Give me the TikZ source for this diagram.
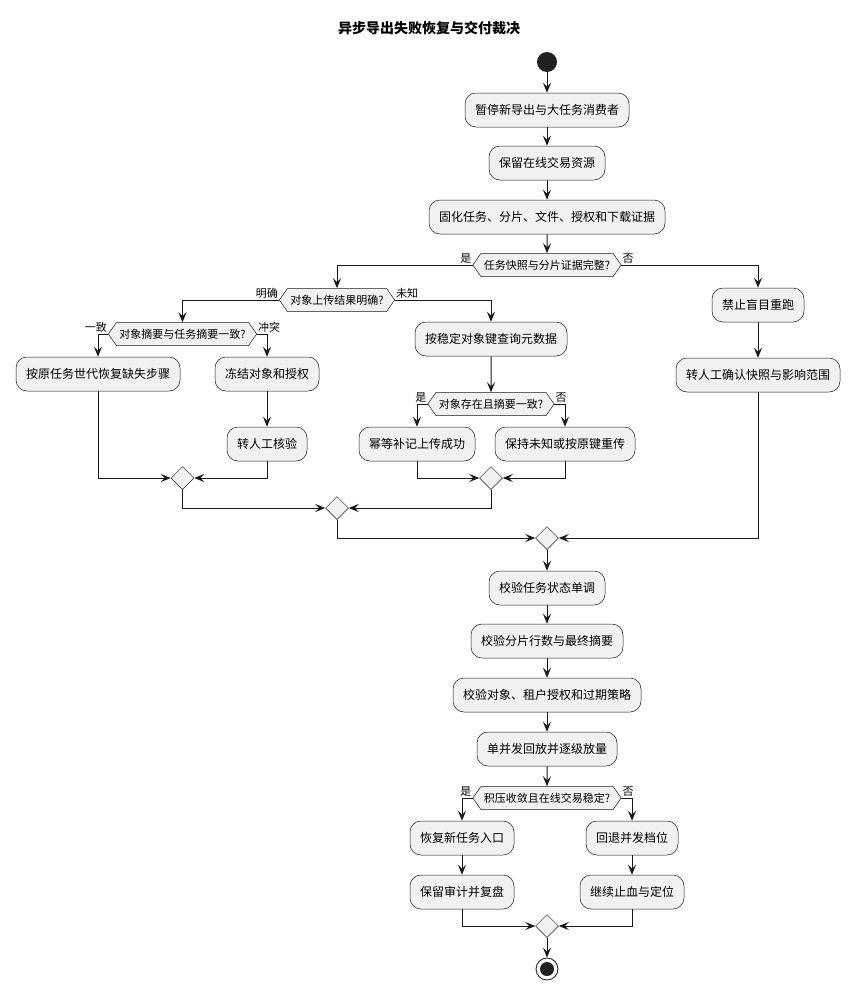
\documentclass[tikz,border=0pt]{standalone}
\usepackage{fontspec}
\setmainfont{Noto Sans CJK SC}
\usetikzlibrary{arrows.meta,shapes.symbols,shapes.geometric}
\definecolor{boxfill}{HTML}{F1F1F1}
\definecolor{boxline}{HTML}{181818}
\begin{document}
\begin{tikzpicture}[x=1pt,y=-1pt,
 act/.style={draw=boxline, fill=boxfill, line width=0.5pt, rounded corners=11pt, minimum height=34pt, inner xsep=10pt, font=\fontsize{12}{14}\selectfont},
 hexa/.style={draw=boxline, fill=boxfill, line width=0.5pt, signal, signal to=east and west, signal pointer angle=110, minimum height=23pt, inner xsep=3pt, inner ysep=0pt, font=\fontsize{11}{13}\selectfont},
 merge/.style={draw=boxline, fill=boxfill, line width=0.5pt, diamond, minimum width=23pt, minimum height=23pt, inner sep=0pt},
 arr/.style={draw=black!90, line width=1pt, -{Stealth[length=10pt,width=8pt,inset=4pt]}},
 lbl/.style={font=\fontsize{11}{13}\selectfont, inner sep=1pt}
]
\useasboundingbox (0,0) rectangle (858,999);
\node[font=\bfseries\fontsize{14}{16}\selectfont] (title) at (429,28) {异步导出失败恢复与交付裁决};
\node[circle, fill=black!87, minimum size=20pt, inner sep=0pt] (start) at (547,62) {};
\node[act] (a1) at (547,110) {暂停新导出与大任务消费者};
\node[act] (a2) at (547,163) {保留在线交易资源};
\node[act] (a3) at (547,217) {固化任务、分片、文件、授权和下载证据};
\node[hexa] (d1) at (547,265) {任务快照与分片证据完整?};
\node[hexa] (d2) at (337,300) {对象上传结果明确?};
\node[hexa] (d3) at (182.5,334) {对象摘要与任务摘要一致?};
\node[act] (b1) at (98,374) {按原任务世代恢复缺失步骤};
\node[act] (b2) at (267,374) {冻结对象和授权};
\node[act] (b3) at (267,444) {转人工核验};
\node[merge] (m3) at (182.5,478) {};
\node[act] (c1) at (491,339) {按稳定对象键查询元数据};
\node[hexa] (d4) at (491,404) {对象存在且摘要一致?};
\node[act] (c2) at (417,444) {幂等补记上传成功};
\node[act] (c3) at (565,444) {保持未知或按原键重传};
\node[merge] (m4) at (491,478) {};
\node[merge] (m2) at (337,508) {};
\node[act] (r1) at (758,305) {禁止盲目重跑};
\node[act] (r2) at (758,375) {转人工确认快照与影响范围};
\node[merge] (m1) at (547,538) {};
\node[act] (e1) at (547,588) {校验任务状态单调};
\node[act] (e2) at (547,641) {校验分片行数与最终摘要};
\node[act] (e3) at (547,695) {校验对象、租户授权和过期策略};
\node[act] (e4) at (547,749) {单并发回放并逐级放量};
\node[hexa] (d5) at (547,798) {积压收敛且在线交易稳定?};
\node[act] (f1) at (462,838) {恢复新任务入口};
\node[act] (f2) at (462,892) {保留审计并复盘};
\node[act] (g1) at (632,838) {回退并发档位};
\node[act] (g2) at (632,892) {继续止血与定位};
\node[merge] (m5) at (547,926) {};
\node[circle, draw=boxline, line width=0.8pt, fill=white, minimum size=22pt, inner sep=0pt] (end) at (547,969) {};
\fill[black!87] (end.center) circle (7pt);
% connectors
\draw[arr] (start) -- (a1);
\draw[arr] (a1) -- (a2);
\draw[arr] (a2) -- (a3);
\draw[arr] (a3) -- (d1);
\draw[arr] (d1.west) -| (d2.north);
\draw[arr] (d1.east) -| (r1.north);
\draw[arr] (d2.west) -| (d3.north);
\draw[arr] (d2.east) -| (c1.north);
\draw[arr] (d3.west) -| (b1.north);
\draw[arr] (d3.east) -| (b2.north);
\draw[arr] (b2) -- (b3);
\draw[arr] (b1.south) |- (m3.west);
\draw[arr] (b3.south) |- (m3.east);
\draw[arr] (c1) -- (d4);
\draw[arr] (d4.west) -| (c2.north);
\draw[arr] (d4.east) -| (c3.north);
\draw[arr] (c2.south) |- (m4.west);
\draw[arr] (c3.south) |- (m4.east);
\draw[arr] (m3.south) |- (m2.west);
\draw[arr] (m4.south) |- (m2.east);
\draw[arr] (r1) -- (r2);
\draw[arr] (m2.south) |- (m1.west);
\draw[arr] (r2.south) |- (m1.east);
\draw[arr] (m1) -- (e1);
\draw[arr] (e1) -- (e2);
\draw[arr] (e2) -- (e3);
\draw[arr] (e3) -- (e4);
\draw[arr] (e4) -- (d5);
\draw[arr] (d5.west) -| (f1.north);
\draw[arr] (d5.east) -| (g1.north);
\draw[arr] (f1) -- (f2);
\draw[arr] (g1) -- (g2);
\draw[arr] (f2.south) |- (m5.west);
\draw[arr] (g2.south) |- (m5.east);
\draw[arr] (m5) -- (end);
% labels
\node[lbl, above left] at (d1.west) {是};
\node[lbl, above right] at (d1.east) {否};
\node[lbl, above left] at (d2.west) {明确};
\node[lbl, above right] at (d2.east) {未知};
\node[lbl, above left] at (d3.west) {一致};
\node[lbl, above right] at (d3.east) {冲突};
\node[lbl, above left] at (d4.west) {是};
\node[lbl, above right] at (d4.east) {否};
\node[lbl, above left] at (d5.west) {是};
\node[lbl, above right] at (d5.east) {否};
\end{tikzpicture}
\end{document}
